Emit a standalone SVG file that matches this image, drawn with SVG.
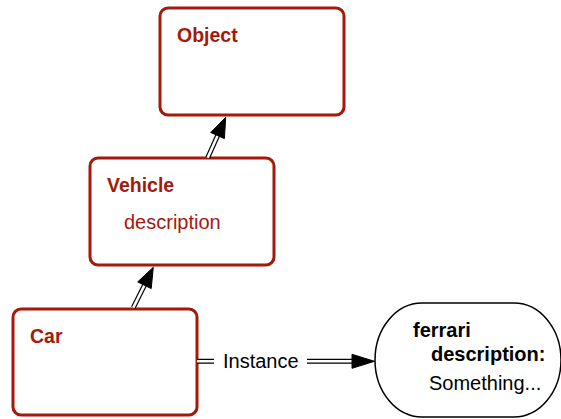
<svg xmlns="http://www.w3.org/2000/svg" width="561" height="419" viewBox="0 0 561 419">
  <style>
    .box{fill:#fff;stroke:#a3190b;stroke-width:3}
    .title{font-family:"Liberation Sans",Arial,sans-serif;font-size:19.5px;font-weight:bold;fill:#a3190b}
    .attr{font-family:"Liberation Sans",Arial,sans-serif;font-size:20px;fill:#a3190b}
    .inst{fill:#fff;stroke:#000;stroke-width:1.5}
    .bt{font-family:"Liberation Sans",Arial,sans-serif;font-size:20px;font-weight:bold;fill:#000}
    .t{font-family:"Liberation Sans",Arial,sans-serif;font-size:20px;fill:#000}
    .outer{fill:none;stroke:#000;stroke-width:5}
    .inner{fill:none;stroke:#fff;stroke-width:2.6}
    .head{fill:#000;stroke:#000;stroke-width:1;stroke-linejoin:miter}
  </style>
  <rect width="561" height="419" fill="#fff"/>
  <g id="object">
    <rect class="box" x="160" y="8" width="184" height="107" rx="8"/>
    <text class="title" x="177" y="42">Object</text>
  </g>
  <g id="vehicle">
    <rect class="box" x="90" y="158" width="184" height="107" rx="8"/>
    <text class="title" x="107" y="192">Vehicle</text>
    <text class="attr" x="124" y="229">description</text>
  </g>
  <g id="car">
    <rect class="box" x="13" y="309" width="184" height="106" rx="8"/>
    <text class="title" x="30" y="343">Car</text>
  </g>
  <g id="ferrari">
    <rect class="inst" x="375" y="303" width="186" height="114" rx="47" ry="57"/>
    <text class="bt" x="413" y="337">ferrari</text>
    <text class="bt" x="431" y="361">description:</text>
    <text class="t" x="429" y="390">Something...</text>
  </g>
  <g id="connectors">
    <path class="outer" d="M207.7,157.7 L218,134.7"/>
    <path class="inner" d="M207.7,157.7 L218,134.7"/>
    <polygon class="head" points="225.7,117.3 210.7,132.5 224.4,138.6"/>
    <path class="outer" d="M133.3,307.7 L144.9,284.3"/>
    <path class="inner" d="M133.3,307.7 L144.9,284.3"/>
    <polygon class="head" points="153.3,267.3 137.7,281.9 151.2,288.6"/>
    <path class="outer" d="M197,361.3 L214,361.3 M307,361.3 L353,361.3"/>
    <path class="inner" d="M197,361.3 L214,361.3 M307,361.3 L353,361.3"/>
    <polygon class="head" points="374.5,361.3 352,354.3 352,368.3"/>
    <text class="t" x="223" y="368">Instance</text>
  </g>
</svg>
